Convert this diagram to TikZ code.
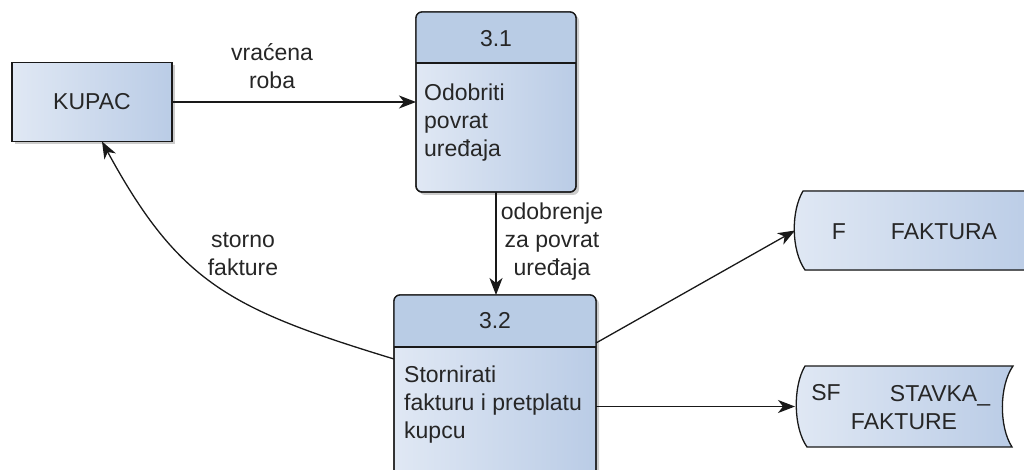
\documentclass[tikz,border=0pt]{standalone}
\usepackage{fontspec}
\setmainfont{Liberation Sans}
\usepackage{xcolor}
\usetikzlibrary{arrows.meta,shadows}
\definecolor{boxlight}{HTML}{E0E8F4}
\definecolor{boxdark}{HTML}{BACCE6}
\definecolor{boxhead}{HTML}{B9CCE5}
\definecolor{txt}{HTML}{262626}
\tikzset{
  lbl/.style={font=\fontsize{23}{28}\selectfont, text=txt, align=center, inner sep=0pt},
  box/.style={draw=black!90, line width=1.3pt, left color=boxlight, right color=boxdark,
    inner sep=0pt, outer sep=0pt, lbl,
    drop shadow={shadow xshift=3pt, shadow yshift=-3pt, opacity=.2, fill=black}},
  proc/.style={rounded corners=6pt},
  store/.style={draw=black!90, line width=1.3pt, left color=boxlight, right color=boxdark},
  anchorbox/.style={inner sep=0pt, outer sep=0pt},
  flow/.style={color=black!90, line width=1.3pt, -{Stealth[length=17pt,width=13pt,inset=5pt]}},
}
\begin{document}
\begin{tikzpicture}[x=1pt,y=-1pt]
		\useasboundingbox (0,0) rectangle (1024,470);
		\clip (0,0) rectangle (1024,470);
		%
		\node[box, minimum width=160pt, minimum height=79pt] (KUP) at (92,102) {KUPAC};
		\node[box, proc, minimum width=160pt, minimum height=180pt] (P31) at (496,102) {};
		\node[box, proc, minimum width=202pt, minimum height=185pt] (P32) at (495,387.5) {};
		%
		\foreach \p/\h in {P31/63,P32/347} {
			\begin{scope}
				\clip[rounded corners=6pt] (\p.north west) rectangle (\p.south east);
				\fill[boxhead] (\p.north west) rectangle (\p.east |- 0,\h);
			\end{scope}
			\draw[line width=1.3pt, black!90] (\p.west |- 0,\h) -- (\p.east |- 0,\h);
			\draw[line width=1.3pt, black!90, rounded corners=6pt] (\p.north west) rectangle (\p.south east);
		}
		\node[lbl] (N31) at (496,39) {3.1};
		\node[lbl, anchor=west, align=left] (T31) at (424,123) {Odobriti\\povrat\\uređaja};
		\node[lbl] (N32) at (495,321) {3.2};
		\node[lbl, anchor=west, align=left] (T32) at (404,405) {Stornirati\\fakturu i pretplatu\\kupcu};
		%
		\node[anchorbox, minimum width=245pt, minimum height=79pt] (F) at (917.5,230.5) {};
		\fill[left color=boxlight, right color=boxdark] (803,191) -- (1040,191) -- (1040,270) -- (805,270)
			.. controls (791,250) and (791,211) .. (803,191) -- cycle;
		\draw[line width=1.3pt, black!90] (1040,191) -- (803,191) .. controls (791,211) and (791,250) .. (805,270) -- (1040,270);
		\node[lbl] (Fid) at (839,232) {F};
		\node[lbl] (Fname) at (944,232) {FAKTURA};
		%
		\node[anchorbox, minimum width=218pt, minimum height=81pt] (SF) at (904,406.5) {};
		\path[store] (805,366) -- (1013,366) .. controls (999,386) and (999,427) .. (1012,447)
			-- (807,447) .. controls (793,427) and (793,386) .. (805,366) -- cycle;
		\node[lbl] (SFid) at (826,393) {SF};
		\node[lbl, anchor=base] (SFn1) at (940,401) {STAVKA\_};
		\node[lbl] (SFn2) at (904,422) {FAKTURE};
		%
		\path[flow]
		(KUP) edge node[lbl, pos=.41, yshift=36pt]{vraćena\\roba} (P31)
		(P31.south) edge node[lbl, pos=.48, xshift=56pt]{odobrenje\\za povrat\\uređaja} (P31.south |- P32.north)
		([yshift=44.5pt]P32.east) edge (F.west)
		([yshift=-19pt]P32.east) edge (SF.west);
		\draw[flow] ([yshift=28.5pt]P32.west) .. controls (230,309) and (179,283) .. ([xshift=10pt]KUP.south);
		\node[lbl] (Lsto) at (243,254) {storno\\fakture};
		\end{tikzpicture}
\end{document}
